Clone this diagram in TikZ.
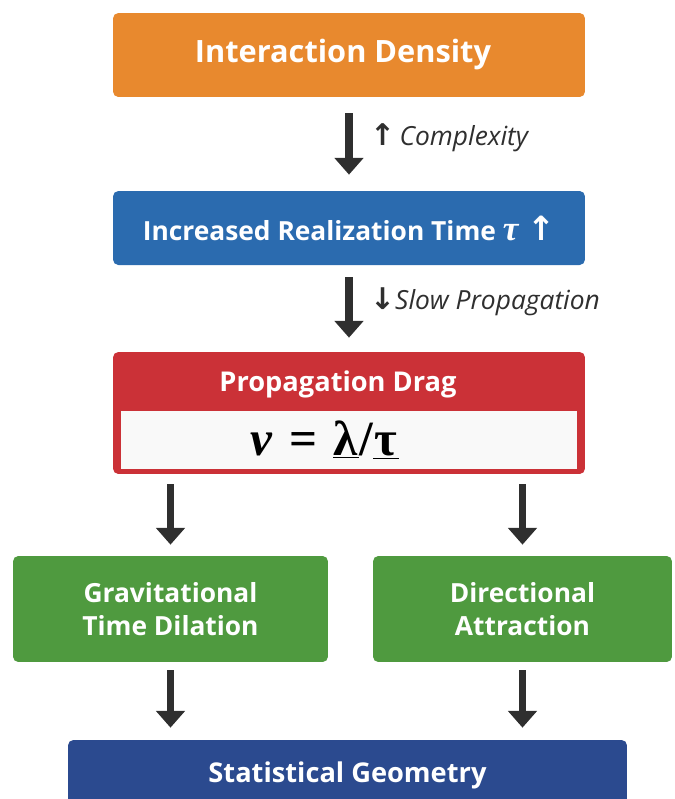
\documentclass[tikz,border=0pt]{standalone}
\usepackage{fontspec}
\setmainfont{Open Sans}
\newfontfamily\symfont{DejaVu Sans}
\newfontfamily\greekfont{Liberation Serif}
\usetikzlibrary{arrows.meta}

\definecolor{boxorange}{HTML}{E8892E}
\definecolor{boxblue}{HTML}{2B6BAF}
\definecolor{boxred}{HTML}{CB3137}
\definecolor{boxgreen}{HTML}{4F9A3F}
\definecolor{boxnavy}{HTML}{2B4A8F}
\definecolor{arrowgray}{HTML}{2F2F2F}

\def\boxwidth{9.44cm}
\def\greenheight{2.12cm}

\tikzset{
  box/.style={rounded corners=3pt, inner sep=0pt, text=white, align=center,
    font=\bfseries\fontsize{15}{19}\selectfont},
  flowarrow/.style={draw=arrowgray, line width=4.2pt,
    -{Triangle[width=16pt,length=9.5pt]}},
  flowlabel/.style={anchor=west, text=arrowgray,
    font=\itshape\fontsize{15}{18}\selectfont}
}

\begin{document}
\begin{tikzpicture}[x=0.02cm, y=-0.02cm]
    \useasboundingbox (0,0) rectangle (675,799);

    % boxes, top to bottom
    \node[box, fill=boxorange, minimum width=\boxwidth, minimum height=1.68cm]
      (density) at (349,55) {};
    \node[box, font=\bfseries\fontsize{17.5}{22}\selectfont] (densitytitle)
      at (343,55) {Interaction Density};
    \node[box, fill=boxblue, minimum width=\boxwidth, minimum height=1.48cm]
      (realize) at (349,228)
      {Increased Realization Time {\greekfont\itshape\fontsize{20}{20}\selectfont τ}\,\,{\symfont\fontsize{19}{19}\selectfont ↑}};
    \node[box, fill=boxred, minimum width=\boxwidth, minimum height=2.44cm]
      (drag) at (349,413) {};
    \node[box, font=\bfseries\fontsize{15.5}{19}\selectfont] (dragtitle) at (338,384)
      {Propagation Drag};
    \node[fill=white!95!gray, minimum width=9.12cm, minimum height=1.16cm,
      inner sep=0pt] (formula) at (349,440) {};
    \node[inner sep=0pt] (formulatext) at (325,440)
      {\greekfont\bfseries\fontsize{28}{30}\selectfont
       {\itshape ν}\,\,=\,\,\underline{λ\kern1pt}/\underline{\kern1pt τ\kern1pt}};
    \node[box, fill=boxgreen, minimum width=6.3cm, minimum height=\greenheight]
      (grav) at (170.5,609) {Gravitational\\Time Dilation};
    \node[box, fill=boxgreen, minimum width=5.98cm, minimum height=\greenheight]
      (attract) at (522.5,609) {Directional\\Attraction};
    \node[box, fill=boxnavy, minimum width=11.18cm, minimum height=1.4cm,
      font=\bfseries\fontsize{15.5}{19}\selectfont] (geometry) at (347.5,775)
      {Statistical Geometry};

    % connectors
    \draw[flowarrow, shorten <=0.32cm, shorten >=0.32cm] (density) -- (realize);
    \draw[flowarrow, shorten <=0.24cm, shorten >=0.28cm] (realize) -- (drag);
    \foreach \target in {grav, attract} {
      \draw[flowarrow, shorten <=0.2cm, shorten >=0.22cm]
        (drag.south -| \target.north) -- (\target.north);
      \draw[flowarrow, shorten <=0.16cm, shorten >=0.24cm]
        (\target.south) -- (geometry.north -| \target.south);
    }

    % labels beside the arrows
    \node[flowlabel] (complexity) at (364,138)
      {{\symfont\bfseries\upshape\fontsize{17}{17}\selectfont ↑}\,Complexity};
    \node[flowlabel] (slowprop) at (364,302)
      {{\symfont\bfseries\upshape\fontsize{17}{17}\selectfont ↓}Slow Propagation};
\end{tikzpicture}
\end{document}
